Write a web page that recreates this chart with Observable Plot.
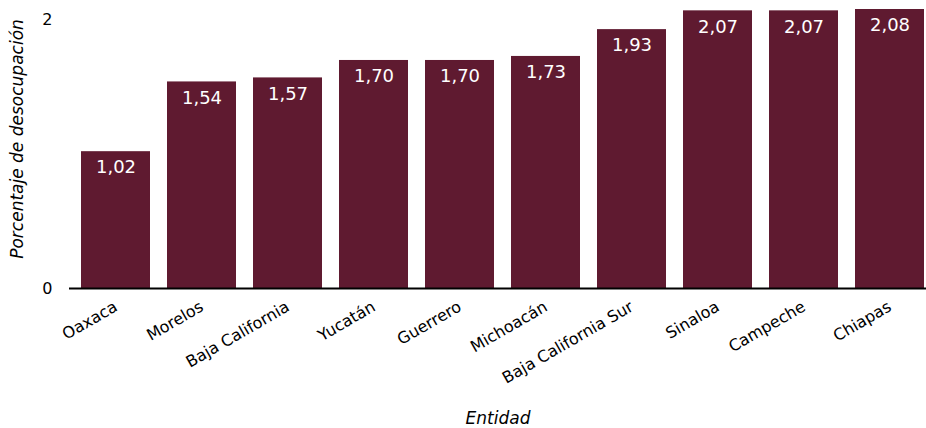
<!DOCTYPE html>
<html>
<head>
<meta charset="utf-8">
<script src="https://cdn.jsdelivr.net/npm/d3@7"></script>
<script src="https://cdn.jsdelivr.net/npm/@observablehq/plot@0.6"></script>
<style>
  html, body { margin: 0; padding: 0; background: #fff; }
</style>
</head>
<body>
<div id="chart"></div>
<script>
const entidades = ["Oaxaca", "Morelos", "Baja California", "Yucatán", "Guerrero", "Michoacán", "Baja California Sur", "Sinaloa", "Campeche", "Chiapas"];
const valores = [1.02, 1.54, 1.57, 1.70, 1.70, 1.73, 1.93, 2.07, 2.07, 2.08];
const yTicks = [0, 2];
const yLabel = "Porcentaje de desocupación";
const xLabel = "Entidad";

const data = entidades.map((e, i) => ({entidad: e, valor: valores[i]}));
const locale = d3.formatLocale({decimal: ",", thousands: ".", grouping: [3], currency: ["$", ""]});
const fmt = locale.format(".2f");
const color = "#5f1a30";
const font = "DejaVu Sans";

const chart = Plot.plot({
  width: 926,
  height: 428,
  marginLeft: 69,
  marginRight: 0,
  marginTop: 9,
  marginBottom: 140,
  style: {fontFamily: font, fontSize: "16px", color: "#000", background: "#fff"},
  x: {domain: entidades, paddingInner: 0.2, paddingOuter: 0.071, align: 0.82, label: null},
  y: {domain: [0, 2.08], label: null},
  marks: [
    Plot.barY(data, {x: "entidad", y: "valor", fill: color}),
    Plot.ruleY([0], {stroke: "#000", strokeWidth: 2}),
    Plot.text(data, {x: "entidad", y: "valor", text: d => fmt(d.valor), fill: "#fff", dy: 16, fontSize: 18, lineAnchor: "middle"}),
    Plot.axisX({tickRotate: -30, tickSize: 0, tickPadding: 17, fontSize: 16, label: null}),
    Plot.axisY({ticks: yTicks, tickSize: 0, tickPadding: 17, fontSize: 16, label: null, tickFormat: d => fmt(d).replace(",00", "")}),
    Plot.text([yLabel], {frameAnchor: "left", rotate: -90, dx: -52, dy: -10, fontSize: 17, fontStyle: "italic", lineAnchor: "middle", textAnchor: "middle", fill: "#000"}),
    Plot.text([xLabel], {frameAnchor: "bottom", dy: 130, fontSize: 17, fontStyle: "italic", lineAnchor: "middle", fill: "#000"})
  ]
});
document.getElementById("chart").appendChild(chart);
</script>
</body>
</html>
